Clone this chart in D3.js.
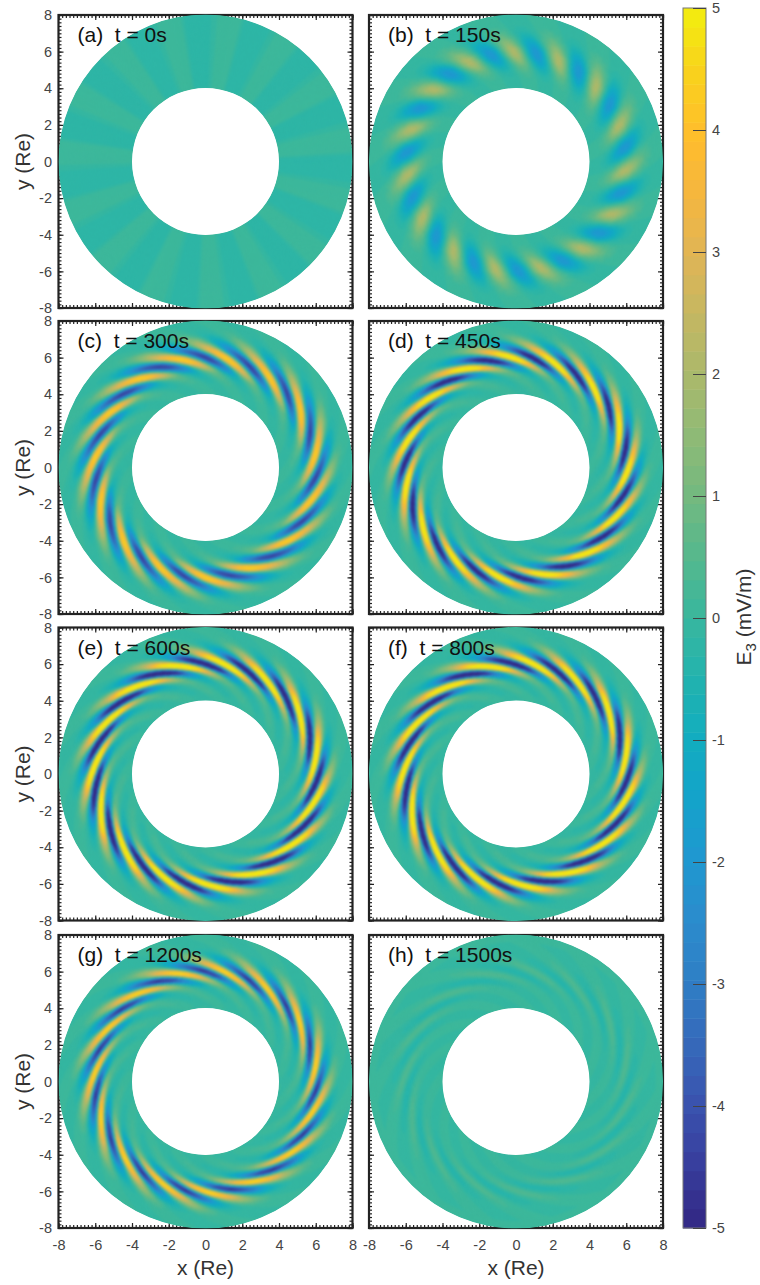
<!DOCTYPE html>
<html>
<head>
<meta charset="utf-8">
<script src="https://cdn.jsdelivr.net/npm/d3@7"></script>
<style>
  html, body { margin: 0; padding: 0; background: #fff; }
  text { font-family: "Liberation Sans", Arial, sans-serif; }
</style>
</head>
<body>
<svg id="container" width="760" height="1285"></svg>
<script>
// radii (Re) of the table rows, one table column = 1/8 of one of the 15 arm periods
const rows = [4, 4.3, 4.6, 4.9, 5.2, 5.5, 5.8, 6.1, 6.4, 6.7, 7, 7.3, 7.6, 8];
const periods = 15;

const labels = ["(a)  t = 0s", "(b)  t = 150s", "(c)  t = 300s", "(d)  t = 450s",
                "(e)  t = 600s", "(f)  t = 800s", "(g)  t = 1200s", "(h)  t = 1500s"];

// angle (deg) of the positive ridge at r = 6
const ridgeAngle = [79.5, 43.5, 31, 21, 31, 32, 31, 32];

// how far the ridge has wound at each row, deg
const twistA = [0, 0, 0, 0, 0, 0, 0, 0, 0, 0, 0, 0, 0, 0];
const twistB = [-13, -11, -9.5, -7, -5, -3, -1, 0.5, 2.5, 4.5, 6.5, 8.5, 10.5, 13];
const twistC = [-40, -35, -29, -23, -17, -11, -4.5, 1.5, 8, 13.5, 18, 23, 28, 35];
const twistD = [-46, -40, -34, -28, -20.5, -13, -5, 2, 9, 15, 20.5, 26, 31, 38];
const twistE = [-48, -42, -36, -30, -22, -14, -5.5, 2.5, 10, 15.5, 21, 26, 31, 38];
const twistF = [-48, -42, -36, -30, -22, -14, -5.5, 2.5, 10, 15.5, 21, 26, 31, 38];
const twistG = [-48, -42, -36, -30, -22, -14, -5.5, 2.5, 10, 15.5, 21, 26, 31, 38];
const twistH = [-48, -42, -36, -30, -22, -14, -5.5, 2.5, 10, 15.5, 21, 26, 31, 38];

// E3 (mV/m), rows by phase column
const gridA = [
  [.05,.05,.05,-.25,-.25,-.25,-.25,.05],[.05,.05,.05,-.25,-.25,-.25,-.25,.05],[.05,.05,.05,-.25,-.25,-.25,-.25,.05],
  [.05,.05,.05,-.25,-.25,-.25,-.25,.05],[.05,.05,.05,-.25,-.25,-.25,-.25,.05],[.05,.05,.05,-.25,-.25,-.25,-.25,.05],
  [.05,.05,.05,-.25,-.25,-.25,-.25,.05],[.05,.05,.05,-.25,-.25,-.25,-.25,.05],[.05,.05,.05,-.25,-.25,-.25,-.25,.05],
  [.05,.05,.05,-.25,-.25,-.25,-.25,.05],[.05,.05,.05,-.25,-.25,-.25,-.25,.05],[.05,.05,.05,-.25,-.25,-.25,-.25,.05],
  [.05,.05,.05,-.25,-.25,-.25,-.25,.05],[.05,.05,.05,-.25,-.25,-.25,-.25,.05]];
const gridB = [
  [0,0,0,0,0,0,0,0],
  [.05,0,0,0,-.05,0,0,0],
  [.15,.1,0,-.1,-.15,-.1,0,.1],
  [.4,.25,0,-.3,-.4,-.3,0,.25],
  [.9,.5,0,-.6,-.9,-.6,0,.5],
  [1.7,1,0,-1.1,-1.6,-1.1,-.1,1],
  [2.4,1.4,0,-1.5,-2.2,-1.5,-.1,1.4],
  [2.5,1.5,.1,-1.6,-2.3,-1.6,0,1.5],
  [1.9,1.1,.1,-1.2,-1.8,-1.2,0,1.1],
  [1.2,.7,.1,-.7,-1.1,-.7,.1,.7],
  [.6,.4,.1,-.4,-.5,-.4,.1,.4],
  [.25,.15,0,-.15,-.2,-.15,0,.15],
  [.1,.05,0,-.05,-.1,-.05,0,.05],
  [0,0,0,0,0,0,0,0]];
const gridC = [
  [0,0,0,0,0,0,0,0],
  [.05,0,0,0,-.05,0,0,0],
  [.15,.1,0,-.1,-.15,-.1,0,.1],
  [.35,.2,0,-.25,-.35,-.25,0,.2],
  [1,.7,0,-.7,-1,-.7,0,.7],
  [2.9,2.2,0,-2.2,-2.9,-2.2,-.1,2.2],
  [4.4,3.5,0,-3.6,-4.5,-3.6,-.1,3.5],
  [4.8,3.8,.1,-3.8,-4.8,-3.8,0,3.8],
  [3.9,3,.1,-3,-3.9,-3,0,3],
  [2.6,1.9,.1,-1.7,-2.2,-1.7,.1,1.9],
  [1.3,.9,.1,-.7,-.9,-.7,.1,.9],
  [.4,.25,0,-.2,-.3,-.2,0,.25],
  [.1,.05,0,-.05,-.1,-.05,0,.05],
  [0,0,0,0,0,0,0,0]];
const gridD = [
  [0,0,0,0,0,0,0,0],
  [.15,.1,0,-.1,-.15,-.1,0,.1],
  [.25,.15,0,-.15,-.25,-.15,0,.15],
  [.35,.2,0,-.25,-.35,-.2,0,.2],
  [.8,.6,0,-.6,-.8,-.6,0,.6],
  [2.8,2.1,-.1,-2.1,-2.8,-2.1,-.1,2.1],
  [5.4,4.2,-.1,-4.3,-5.5,-4.3,-.2,4.2],
  [6.3,4.9,0,-4.9,-6.3,-4.9,-.1,4.9],
  [4.7,3.6,.1,-3.4,-4.5,-3.4,0,3.6],
  [2.7,2,.1,-1.6,-2.1,-1.6,.1,2],
  [1.2,.8,.1,-.5,-.7,-.5,.1,.8],
  [.3,.2,0,-.15,-.2,-.15,0,.2],
  [.05,0,0,0,-.05,0,0,0],
  [0,0,0,0,0,0,0,0]];
const gridE = [
  [.05,0,-.05,0,.05,0,-.05,0],
  [.15,.1,-.1,-.1,-.15,-.1,.1,.1],
  [.3,.2,-.1,-.2,-.3,-.2,.1,.2],
  [.35,.2,0,-.25,-.35,-.25,0,.2],
  [.8,.6,0,-.6,-.8,-.6,0,.6],
  [2.8,2,-.1,-2,-2.8,-2,-.1,2],
  [6.3,4.6,-.2,-4.7,-6.4,-4.7,-.2,4.6],
  [7.5,5.4,-.1,-5.4,-7.4,-5.4,-.1,5.4],
  [5.4,4,.1,-3.8,-5,-3.8,.1,4],
  [2.9,2.1,.1,-1.7,-2.2,-1.7,.1,2.1],
  [1.3,.9,.1,-.5,-.7,-.5,.1,.9],
  [.3,.2,0,-.15,-.2,-.15,0,.2],
  [.05,0,0,0,-.05,0,0,0],
  [0,0,0,0,0,0,0,0]];
const gridF = [
  [.05,0,-.05,0,.05,0,-.05,0],
  [.15,.1,-.1,-.1,-.15,-.1,.1,.1],
  [.3,.2,-.1,-.2,-.3,-.2,.1,.2],
  [.35,.2,0,-.25,-.35,-.25,0,.2],
  [.8,.6,0,-.6,-.8,-.6,0,.6],
  [2.7,2,-.1,-2,-2.7,-2,-.1,2],
  [6.2,4.5,-.2,-4.6,-6.2,-4.6,-.2,4.5],
  [7.4,5.3,-.1,-5.3,-7.2,-5.3,-.1,5.3],
  [5.4,4,.1,-3.7,-4.9,-3.7,.1,4],
  [2.9,2.1,.1,-1.7,-2.1,-1.7,.1,2.1],
  [1.3,.9,.1,-.5,-.7,-.5,.1,.9],
  [.3,.2,0,-.15,-.2,-.15,0,.2],
  [.05,0,0,0,-.05,0,0,0],
  [0,0,0,0,0,0,0,0]];
const gridG = [
  [.05,0,-.05,0,.05,0,-.05,0],
  [.1,.05,-.05,-.05,-.1,-.05,.05,.05],
  [.2,.15,-.1,-.15,-.2,-.15,.1,.15],
  [.25,.15,0,-.2,-.25,-.2,0,.15],
  [.6,.45,0,-.45,-.6,-.45,0,.45],
  [2.1,1.6,-.1,-1.6,-2.1,-1.6,-.1,1.6],
  [4.4,3.4,-.1,-3.6,-4.6,-3.6,-.1,3.4],
  [5.2,4,-.1,-4,-5.3,-4,-.1,4],
  [3.9,3,.1,-2.8,-3.6,-2.8,.1,3],
  [2.2,1.6,.1,-1.2,-1.6,-1.2,.1,1.6],
  [1,.7,.1,-.4,-.5,-.4,.1,.7],
  [.25,.15,0,-.1,-.15,-.1,0,.15],
  [.05,0,0,0,-.05,0,0,0],
  [0,0,0,0,0,0,0,0]];
const gridH = [
  [0,0,0,0,0,0,0,0],
  [.05,0,0,0,-.05,0,0,0],
  [.05,.05,0,-.05,-.1,-.05,0,.05],
  [.1,.05,0,-.1,-.1,-.1,0,.05],
  [.15,.1,0,-.1,-.2,-.1,0,.1],
  [.25,.15,0,-.2,-.35,-.2,0,.15],
  [.45,.3,0,-.3,-.5,-.3,0,.3],
  [.5,.3,0,-.3,-.5,-.3,0,.3],
  [.4,.25,0,-.2,-.35,-.2,0,.25],
  [.25,.15,0,-.15,-.2,-.15,0,.15],
  [.1,.05,0,-.05,-.1,-.05,0,.05],
  [.05,0,0,0,-.05,0,0,0],
  [0,0,0,0,0,0,0,0],
  [0,0,0,0,0,0,0,0]];

const grids = [gridA, gridB, gridC, gridD, gridE, gridF, gridG, gridH];
const twists = [twistA, twistB, twistC, twistD, twistE, twistF, twistG, twistH];

// colormap
const cbarStops = d3.range(-5, 5.01, 0.5);
const cbarColors = ["#332a87", "#38409f", "#3a55b0", "#356bbb", "#2f7fc5", "#2b8ccd", "#1f98d0", "#14a3ca",
  "#12adbf", "#22b3ae", "#39b79e", "#55b88e", "#72b980", "#8eba76", "#a9b96c", "#c3b762", "#dfb556",
  "#f4b640", "#ffbd2c", "#f9d01e", "#f3ea10"];
const cbarTicks = d3.range(-5, 6);

// frame left edges and top edges
const colX = [58.5, 369];
const rowY = [15, 321, 627.5, 935];
const frameW = 294, frameH = 293;

const svg = d3.select("#container");
const defs = svg.append("defs");

let colorRamp = d3.scaleLinear().domain(cbarStops).range(cbarColors).interpolate(d3.interpolateRgb);
let color = d3.scaleQuantize().domain([-5, 5]).range(d3.range(64).map(i => colorRamp(-5 + i * 10 / 63)));

defs.append("filter").attr("id", "smooth")
    .attr("x", "-5%").attr("y", "-5%").attr("width", "110%").attr("height", "110%")
    .attr("color-interpolation-filters", "sRGB")
  .append("feGaussianBlur").attr("stdDeviation", 0.8);

const tickAll = d3.range(-8, 8.01, 0.2);
const tickMain = d3.range(-8, 8.01, 2);

function drawAxes(g, x, y, i) {
    let col = i % 2, row = Math.floor(i / 2);
    const styleAxis = sel => {
        sel.select(".domain").remove();
        sel.selectAll("line").attr("stroke", "#222").attr("stroke-width", 1.2);
        sel.selectAll("text").attr("fill", "#444").style("font-size", "14.5px").style("font-family", "Liberation Sans");
    };
    // dense minor ticks on all four sides
    g.append("g").attr("transform", `translate(0,${frameH})`).call(d3.axisBottom(x).tickValues(tickAll).tickSize(-3).tickFormat("")).call(styleAxis);
    g.append("g").call(d3.axisTop(x).tickValues(tickAll).tickSize(-3).tickFormat("")).call(styleAxis);
    g.append("g").call(d3.axisLeft(y).tickValues(tickAll).tickSize(-3).tickFormat("")).call(styleAxis);
    g.append("g").attr("transform", `translate(${frameW},0)`).call(d3.axisRight(y).tickValues(tickAll).tickSize(-3).tickFormat("")).call(styleAxis);

    let bottom = d3.axisBottom(x).tickValues(tickMain).tickSize(-5).tickPadding(12).tickFormat(row === 3 ? String : "");
    let left = d3.axisLeft(y).tickValues(tickMain).tickSize(-5).tickPadding(6.5).tickFormat(col === 0 ? String : "");
    g.append("g").attr("transform", `translate(0,${frameH})`).call(bottom).call(styleAxis);
    g.append("g").call(left).call(styleAxis);
    g.append("g").call(d3.axisTop(x).tickValues(tickMain).tickSize(-5).tickFormat("")).call(styleAxis);
    g.append("g").attr("transform", `translate(${frameW},0)`).call(d3.axisRight(y).tickValues(tickMain).tickSize(-5).tickFormat("")).call(styleAxis);

    g.append("rect").attr("width", frameW).attr("height", frameH)
        .attr("fill", "none").attr("stroke", "#222").attr("stroke-width", 2.2);
}

function drawField(g, x, y, i) {
    let cx = x(0), cy = y(0);
    let pxPerRe = x(1) - x(0);
    let twist = d3.scaleLinear().domain(rows).range(twists[i]);
    let colScales = d3.range(8).map(c => d3.scaleLinear().domain(rows).range(grids[i].map(r => r[c])));
    let cellAt = (r, u) => d3.interpolateBasisClosed(colScales.map(s => s(r)))(u);

    // corner to screen: radial line angle runs clockwise from 12 o'clock
    let cellPath = d3.lineRadial()
        .angle(d => (90 - (ridgeAngle[i] + twist(d[0]) + d[1] * 360 / periods)) * Math.PI / 180)
        .radius(d => d[0] * pxPerRe)
        .curve(d3.curveLinearClosed);

    // one period of cells, repeated around the ring
    let dr = 0.125, du = 0.05;
    let cells = d3.cross(d3.range(4, 8, dr), d3.range(0, 1 - 1e-6, du));
    let clipId = "ring" + i;
    defs.append("clipPath").attr("id", clipId).append("path")
        .attr("d", d3.arc()({ innerRadius: 4 * pxPerRe, outerRadius: 8 * pxPerRe, startAngle: 0, endAngle: 2 * Math.PI }));

    let unit = defs.append("g").attr("id", "period" + i);
    unit.selectAll("path").data(cells).enter().append("path")
        .attr("d", d => cellPath([[d[0], d[1]], [d[0], d[1] + du], [d[0] + dr, d[1] + du], [d[0] + dr, d[1]]]))
        .attr("fill", d => color(cellAt(d[0] + dr / 2, d[1] + du / 2)))
        .attr("stroke", d => color(cellAt(d[0] + dr / 2, d[1] + du / 2)))
        .attr("stroke-width", 0.6);

    let ring = g.append("g").attr("transform", `translate(${cx},${cy})`).attr("clip-path", `url(#${clipId})`);
    ring.append("path")
        .attr("d", d3.arc()({ innerRadius: 4 * pxPerRe, outerRadius: 8 * pxPerRe, startAngle: 0, endAngle: 2 * Math.PI }))
        .attr("fill", color(0.01));
    let blurred = ring.append("g").attr("filter", "url(#smooth)");
    blurred.selectAll("use").data(d3.range(periods)).enter().append("use")
        .attr("href", "#period" + i)
        .attr("transform", k => `rotate(${k * 360 / periods})`);
}

labels.forEach((label, i) => {
    let col = i % 2, row = Math.floor(i / 2);
    let x = d3.scaleLinear().domain([-8, 8]).range([0, frameW]);
    let y = d3.scaleLinear().domain([-8, 8]).range([frameH, 0]);
    let g = svg.append("g").attr("transform", `translate(${colX[col]},${rowY[row]})`);

    drawAxes(g, x, y, i);
    drawField(g, x, y, i);

    g.append("text").attr("x", 19).attr("y", 27)
        .attr("xml:space", "preserve").style("white-space", "pre")
        .style("font-size", "21px").attr("fill", "#111").text(label);

    if (col === 0) {
        g.append("text").attr("transform", `translate(-29,${frameH / 2}) rotate(-90)`)
            .attr("text-anchor", "middle").style("font-size", "21px").attr("fill", "#333").text("y (Re)");
    }
    if (row === 3) {
        g.append("text").attr("x", frameW / 2).attr("y", frameH + 47)
            .attr("text-anchor", "middle").style("font-size", "21px").attr("fill", "#333").text("x (Re)");
    }
});

// colorbar
let barX = 683, barW = 23, barTop = 8, barBottom = 1228;
let barY = d3.scaleLinear().domain([-5, 5]).range([barBottom, barTop]);
let bar = svg.append("g");
bar.selectAll("rect").data(color.range()).enter().append("rect")
    .attr("x", barX).attr("width", barW)
    .attr("y", (d, i) => barY(-5 + (i + 1) * 10 / 64))
    .attr("height", (barBottom - barTop) / 64 + 0.5)
    .attr("fill", d => d);
bar.append("rect").attr("x", barX).attr("y", barTop).attr("width", barW).attr("height", barBottom - barTop)
    .attr("fill", "none").attr("stroke", "#777").attr("stroke-width", 1);

let barAxis = svg.append("g").attr("transform", `translate(${barX + barW},0)`)
    .call(d3.axisRight(barY).tickValues(cbarTicks).tickSize(-13).tickPadding(6).tickFormat(String));
barAxis.select(".domain").remove();
barAxis.selectAll("line").attr("stroke", "#444");
barAxis.selectAll("text").attr("fill", "#444").style("font-size", "14.5px").style("font-family", "Liberation Sans");

let barTitle = svg.append("text").attr("transform", "translate(751,617) rotate(-90)")
    .attr("text-anchor", "middle").style("font-size", "21px").attr("fill", "#333");
barTitle.append("tspan").text("E");
barTitle.append("tspan").attr("dy", 5).style("font-size", "15px").text("3");
barTitle.append("tspan").attr("dy", -5).text(" (mV/m)");
</script>
</body>
</html>
